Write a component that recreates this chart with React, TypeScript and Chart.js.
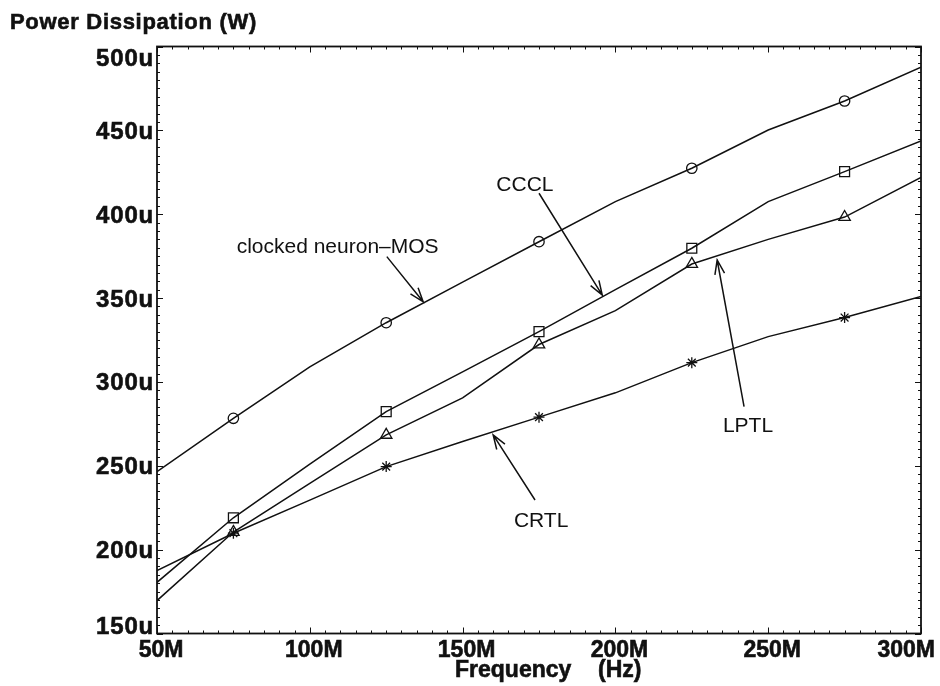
import React, { useEffect, useRef } from "react";
import { Chart, registerables } from "chart.js";

Chart.register(...registerables);

// ---- data (frequency in MHz, power in µW) ----
const frequencyMHz = [50, 75, 100, 125, 150, 175, 200, 225, 250, 275, 300];
const neuronMOS = [246.5, 278.3, 309, 335.3, 359.5, 383.6, 407.5, 427.4, 450.2, 467.5, 487.6];
const cccl = [180.5, 219, 251, 282.3, 306, 330, 355, 379.7, 407.5, 425.4, 443.7];
const lptl = [169.6, 210.5, 239.5, 268.4, 290.5, 322.3, 342.5, 370.3, 385, 398.3, 422];
const crtl = [187.5, 209.8, 229.5, 249.5, 264.5, 279, 293.5, 311.5, 327, 338.4, 351];
const markerFreqs = [75, 125, 175, 225, 275];

const xTicks = [50, 100, 150, 200, 250, 300];
const xTickLabels = ["50M", "100M", "150M", "200M", "250M", "300M"];
const yTicks = [150, 200, 250, 300, 350, 400, 450, 500];
const yTickLabels = ["150u", "200u", "250u", "300u", "350u", "400u", "450u", "500u"];

const seriesNames = ["clocked neuron–MOS", "CCCL", "LPTL", "CRTL"];
const yTitle = "Power Dissipation (W)";
const xTitle = "Frequency  (Hz)";

const FONT = '"Liberation Sans", Arial, Helvetica, sans-serif';

// annotation label + arrow, in data units (MHz, µW)
const annotations = [
  { text: seriesNames[0], tx: 109.1, ty: 376.7, x1: 125.2, y1: 374.7, x2: 137.1, y2: 347.8 },
  { text: seriesNames[1], tx: 170.4, ty: 414.0, x1: 175.0, y1: 412.5, x2: 195.7, y2: 351.8 },
  { text: seriesNames[2], tx: 243.4, ty: 270.3, x1: 242.1, y1: 285.3, x2: 233.3, y2: 372.7 },
  { text: seriesNames[3], tx: 175.7, ty: 213.3, x1: 173.7, y1: 229.6, x2: 160.0, y2: 268.4 },
];

function makePts(vals: number[]) {
  return frequencyMHz.map((f, i) => ({ x: f, y: vals[i] }));
}
function radii(r: number) {
  return frequencyMHz.map((f) => (markerFreqs.includes(f) ? r : 0));
}

function drawText(
  ctx: CanvasRenderingContext2D,
  s: string,
  x: number,
  y: number,
  font: string,
  align: CanvasTextAlign,
  ls = "0px",
  ws = "0px",
  heavy = false
) {
  ctx.save();
  ctx.font = font;
  ctx.textAlign = align;
  ctx.textBaseline = "alphabetic";
  (ctx as any).letterSpacing = ls;
  (ctx as any).wordSpacing = ws;
  ctx.fillStyle = "#111";
  ctx.fillText(s, x, y);
  if (heavy) {
    ctx.strokeStyle = "#111";
    ctx.lineWidth = 0.6;
    ctx.strokeText(s, x, y);
  }
  ctx.restore();
}

function arrow(ctx: CanvasRenderingContext2D, x1: number, y1: number, x2: number, y2: number) {
  const ang = Math.atan2(y2 - y1, x2 - x1);
  const len = 15;
  const spread = (19 * Math.PI) / 180;
  ctx.save();
  ctx.strokeStyle = "#111";
  ctx.lineWidth = 1.5;
  ctx.beginPath();
  ctx.moveTo(x1, y1);
  ctx.lineTo(x2, y2);
  ctx.moveTo(x2 - len * Math.cos(ang - spread), y2 - len * Math.sin(ang - spread));
  ctx.lineTo(x2, y2);
  ctx.lineTo(x2 - len * Math.cos(ang + spread), y2 - len * Math.sin(ang + spread));
  ctx.stroke();
  ctx.restore();
}

const framePlugin = {
  id: "framePlugin",
  afterDraw(chart: any) {
    const ctx: CanvasRenderingContext2D = chart.ctx;
    const xs = chart.scales.x;
    const ys = chart.scales.y;
    const { left, right, top, bottom } = chart.chartArea;

    // ticks (inward, all four sides)
    ctx.save();
    ctx.strokeStyle = "#111";
    ctx.lineWidth = 1;
    ctx.beginPath();
    for (let v = xs.min; v <= xs.max + 0.001; v += 5) {
      const px = Math.round(xs.getPixelForValue(v)) + 0.5;
      const len = Math.abs(v % 50) < 0.001 ? 6 : 3;
      ctx.moveTo(px, bottom);
      ctx.lineTo(px, bottom - len);
      ctx.moveTo(px, top);
      ctx.lineTo(px, top + len);
    }
    for (let v = ys.min; v <= ys.max + 0.001; v += 5) {
      const py = Math.round(ys.getPixelForValue(v)) + 0.5;
      const len = Math.abs(v % 50) < 0.001 ? 6 : 3;
      ctx.moveTo(left, py);
      ctx.lineTo(left + len, py);
      ctx.moveTo(right, py);
      ctx.lineTo(right - len, py);
    }
    ctx.stroke();
    // frame
    ctx.lineWidth = 1.8;
    ctx.strokeRect(left, top, right - left, bottom - top);
    ctx.restore();

    // x tick labels
    const tickFont = `bold 23px ${FONT}`;
    xTicks.forEach((v, i) => {
      const px = xs.getPixelForValue(v);
      if (i === xTicks.length - 1) {
        drawText(ctx, xTickLabels[i], px + 14, bottom + 23.2, tickFont, "right", "0px", "0px", true);
      } else {
        drawText(ctx, xTickLabels[i], px + 4, bottom + 23.2, tickFont, "center", "0px", "0px", true);
      }
    });
    // y tick labels
    yTicks.forEach((v, i) => {
      const py = ys.getPixelForValue(v);
      const c = Math.min(Math.max(py, top + 11), bottom - 8);
      drawText(ctx, yTickLabels[i], left - 3, c + 8.5, `bold 24px ${FONT}`, "right", "0.8px", "0px", true);
    });

    // axis titles
    drawText(ctx, yTitle, 10, 28.5, `bold 22px ${FONT}`, "left", "0.7px", "0px", true);
    drawText(ctx, xTitle, 455, 676.7, `bold 23px ${FONT}`, "left", "0px", "7px", true);

    // annotations
    const annFont = `21px ${FONT}`;
    annotations.forEach((a) => {
      drawText(ctx, a.text, xs.getPixelForValue(a.tx), ys.getPixelForValue(a.ty), annFont, "center");
      arrow(
        ctx,
        xs.getPixelForValue(a.x1),
        ys.getPixelForValue(a.y1),
        xs.getPixelForValue(a.x2),
        ys.getPixelForValue(a.y2)
      );
    });
  },
};

export default function App() {
  const ref = useRef<HTMLCanvasElement | null>(null);

  useEffect(() => {
    if (!ref.current) return;
    const common = {
      borderColor: "#111",
      borderWidth: 1.5,
      pointBorderColor: "#111",
      pointBackgroundColor: "rgba(0,0,0,0)",
      pointBorderWidth: 1.3,
      tension: 0,
      fill: false,
    };
    const chart = new Chart(ref.current, {
      type: "line",
      data: {
        datasets: [
          { ...common, label: seriesNames[0], data: makePts(neuronMOS), pointStyle: "circle", pointRadius: radii(5.2) },
          { ...common, label: seriesNames[1], data: makePts(cccl), pointStyle: "rect", pointRadius: radii(7) },
          { ...common, label: seriesNames[2], data: makePts(lptl), pointStyle: "triangle", pointRadius: radii(6.6) },
          { ...common, label: seriesNames[3], data: makePts(crtl), pointStyle: "star", pointRadius: radii(5.5) },
        ],
      },
      options: {
        responsive: false,
        animation: false,
        events: [],
        layout: { padding: { left: 157, top: 46.5, right: 19, bottom: 52.5 } },
        plugins: { legend: { display: false }, tooltip: { enabled: false }, title: { display: false } },
        scales: {
          x: { type: "linear", min: 50, max: 300, display: false },
          y: { type: "linear", min: 150, max: 500, display: false },
        },
      },
      plugins: [framePlugin],
    } as any);
    return () => chart.destroy();
  }, []);

  return (
    <div style={{ position: "absolute", left: 0, top: 0, width: 940, height: 686, background: "#fff" }}>
      <canvas ref={ref} width={940} height={686} style={{ width: 940, height: 686, display: "block" }} />
    </div>
  );
}
